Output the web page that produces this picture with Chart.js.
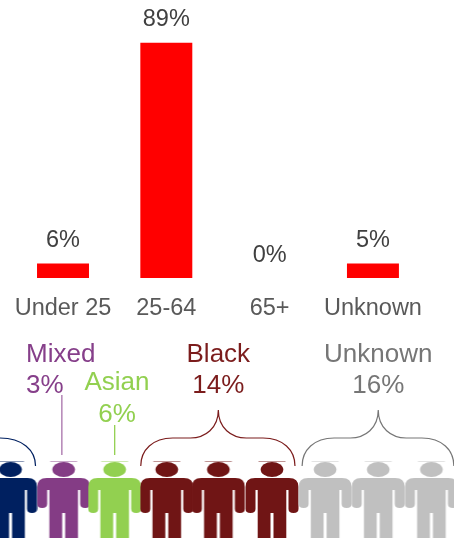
<!DOCTYPE html>
<html>
<head>
<meta charset="utf-8">
<style>
html,body{margin:0;padding:0;background:#fff;overflow:hidden;width:454px;height:538px}
canvas{position:absolute;left:0}
#bars{top:0}
#people{top:330px}
</style>
<script src="https://cdn.jsdelivr.net/npm/chart.js@4/dist/chart.umd.min.js"></script>
</head>
<body>
<canvas id="bars" width="454" height="345"></canvas>
<canvas id="people" width="454" height="208"></canvas>
<script>
// Age chart
const ageCategories = ['Under 25', '25-64', '65+', 'Unknown'];
const ageValues = [5.5, 89, 0, 5.5];
const ageLabels = ['6%', '89%', '0%', '5%'];

// Ethnicity pictogram: one entry per figure, in slot units along the row
const figureGroups = ['Other', 'Mixed', 'Asian', 'Black', 'Black', 'Black', 'Unknown', 'Unknown', 'Unknown'];
const figureSlots = [0, 1.01, 1.98, 2.97, 3.95, 4.97, 5.98, 6.99, 8];
const groupColors = {Other:'#002060', Mixed:'#843c85', Asian:'#92d050', Black:'#701515', Unknown:'#c0c0c0'};
const textColors = {Mixed:'#863f8a', Asian:'#92d050', Black:'#7b1c1c', Unknown:'#767676'};
const groupPercents = {Mixed:'3%', Asian:'6%', Black:'14%', Unknown:'16%'};

const FONT = '"Liberation Sans", Arial, sans-serif';

const barLabelPlugin = {
  id: 'barLabels',
  afterDatasetsDraw(chart) {
    const ctx = chart.ctx;
    ctx.save();
    ctx.font = '23.5px ' + FONT;
    ctx.fillStyle = '#404040';
    ctx.textAlign = 'center';
    ctx.textBaseline = 'alphabetic';
    chart.getDatasetMeta(0).data.forEach((bar, i) => {
      ctx.fillText(ageLabels[i], bar.x, bar.y - 16.5);
    });
    ctx.restore();
  }
};

new Chart(document.getElementById('bars'), {
  type: 'bar',
  data: {
    labels: ageCategories,
    datasets: [{data: ageValues, backgroundColor: '#ff0000', borderWidth: 0,
      barPercentage: 0.503, categoryPercentage: 1}]
  },
  options: {
    responsive: false,
    animation: false,
    layout: {autoPadding: false, padding: {left: 11.35, right: 29.4, top: 42.5, bottom: 14.7}},
    plugins: {legend: {display: false}, tooltip: {enabled: false}},
    scales: {
      x: {
        grid: {display: false},
        border: {display: false},
        ticks: {color: '#595959', font: {family: FONT, size: 23.5}, padding: 8,
          autoSkip: false, maxRotation: 0, minRotation: 0}
      },
      y: {display: false, min: 0, max: 89}
    }
  },
  plugins: [barLabelPlugin]
});

function figureImage(color, armEnd) {
  const c = document.createElement('canvas');
  c.width = 54; c.height = 80;
  const g = c.getContext('2d');
  const m = 27;
  g.fillStyle = color;
  // faint line above the head
  g.globalAlpha = 0.45;
  g.fillRect(m - 13.5, 0, 27, 1);
  g.globalAlpha = 1;
  g.beginPath();
  g.ellipse(m, 8.5, 11.3, 7.5, 0, 0, Math.PI * 2);
  g.fill();
  g.beginPath();
  g.moveTo(m - 17, 17);
  g.lineTo(m + 17, 17);
  g.quadraticCurveTo(m + 26.5, 17, m + 26.5, 26);
  g.lineTo(m + 26.5, armEnd - 4);
  g.quadraticCurveTo(m + 26.5, armEnd, m + 21.5, armEnd);
  g.quadraticCurveTo(m + 16.5, armEnd, m + 16.5, armEnd - 4);
  g.lineTo(m + 16.5, 29);
  g.lineTo(m + 14.3, 29);
  g.lineTo(m + 14.3, 80);
  g.lineTo(m + 1.5, 80);
  g.lineTo(m + 1.5, 52);
  g.lineTo(m - 1.5, 52);
  g.lineTo(m - 1.5, 80);
  g.lineTo(m - 14.3, 80);
  g.lineTo(m - 14.3, 29);
  g.lineTo(m - 16.5, 29);
  g.lineTo(m - 16.5, armEnd - 4);
  g.quadraticCurveTo(m - 16.5, armEnd, m - 21.5, armEnd);
  g.quadraticCurveTo(m - 26.5, armEnd, m - 26.5, armEnd - 4);
  g.lineTo(m - 26.5, 26);
  g.quadraticCurveTo(m - 26.5, 17, m - 17, 17);
  g.closePath();
  g.fill();
  return c;
}

const shortArms = {Mixed: true, Unknown: true};

const annotationPlugin = {
  id: 'annotations',
  afterDatasetsDraw(chart) {
    const ctx = chart.ctx;
    const x = chart.scales.x;
    const at = i => x.getPixelForValue(figureSlots[i]);
    const Y = v => v - 330;
    ctx.save();
    ctx.lineWidth = 1.2;

    function brace(color, left, right, tip) {
      const top = Y(410), mid = Y(438), end = Y(466);
      ctx.strokeStyle = color;
      ctx.beginPath();
      ctx.moveTo(left, end);
      ctx.bezierCurveTo(left, mid + 12, left + 12, mid, left + 32, mid);
      ctx.lineTo(tip - 28, mid);
      ctx.bezierCurveTo(tip - 13, mid, tip, mid - 10, tip, top);
      ctx.bezierCurveTo(tip, mid - 10, tip + 13, mid, tip + 28, mid);
      ctx.lineTo(right - 32, mid);
      ctx.bezierCurveTo(right - 12, mid, right, mid + 12, right, end);
      ctx.stroke();
    }
    brace('#7b1c1c', at(3) - 26, at(5) + 23, at(4));
    brace('#767676', at(6) - 23, at(8) + 22.5, at(7));

    // arc of the group cut off at the left edge
    ctx.strokeStyle = '#002060';
    ctx.beginPath();
    ctx.moveTo(0, Y(438));
    ctx.bezierCurveTo(22, Y(438), at(0) + 25, Y(450), at(0) + 25, Y(466));
    ctx.stroke();

    // leader lines
    ctx.lineWidth = 1.3;
    ctx.strokeStyle = '#a871aa';
    ctx.beginPath();
    ctx.moveTo(at(1) - 1.8, Y(395));
    ctx.lineTo(at(1) - 1.8, Y(455));
    ctx.stroke();
    ctx.strokeStyle = '#92d050';
    ctx.beginPath();
    ctx.moveTo(at(2), Y(425));
    ctx.lineTo(at(2), Y(455));
    ctx.stroke();

    // group texts
    ctx.font = '26px ' + FONT;
    ctx.textBaseline = 'alphabetic';
    ctx.textAlign = 'left';
    ctx.fillStyle = textColors.Mixed;
    ctx.fillText('Mixed', 26, Y(362));
    ctx.fillText(groupPercents.Mixed, 26, Y(393));
    ctx.textAlign = 'center';
    ctx.fillStyle = textColors.Asian;
    ctx.fillText('Asian', 117, Y(390));
    ctx.fillText(groupPercents.Asian, 117, Y(421.5));
    ctx.fillStyle = textColors.Black;
    ctx.fillText('Black', at(4), Y(362));
    ctx.fillText(groupPercents.Black, at(4), Y(393));
    ctx.fillStyle = textColors.Unknown;
    ctx.fillText('Unknown', at(7), Y(362));
    ctx.fillText(groupPercents.Unknown, at(7), Y(393));
    ctx.restore();
  }
};

new Chart(document.getElementById('people'), {
  type: 'scatter',
  data: {
    datasets: [{
      data: figureSlots.map(s => ({x: s, y: 0})),
      pointStyle: figureGroups.map(g => figureImage(groupColors[g], shortArms[g] ? 47 : 52)),
      pointRadius: 1,
      clip: false
    }]
  },
  options: {
    responsive: false,
    animation: false,
    layout: {autoPadding: false, padding: 0},
    plugins: {legend: {display: false}, tooltip: {enabled: false}},
    scales: {
      x: {display: false, min: -0.2, max: 8.43},
      y: {display: false, min: -37, max: 171}
    }
  },
  plugins: [annotationPlugin]
});
</script>
</body>
</html>
